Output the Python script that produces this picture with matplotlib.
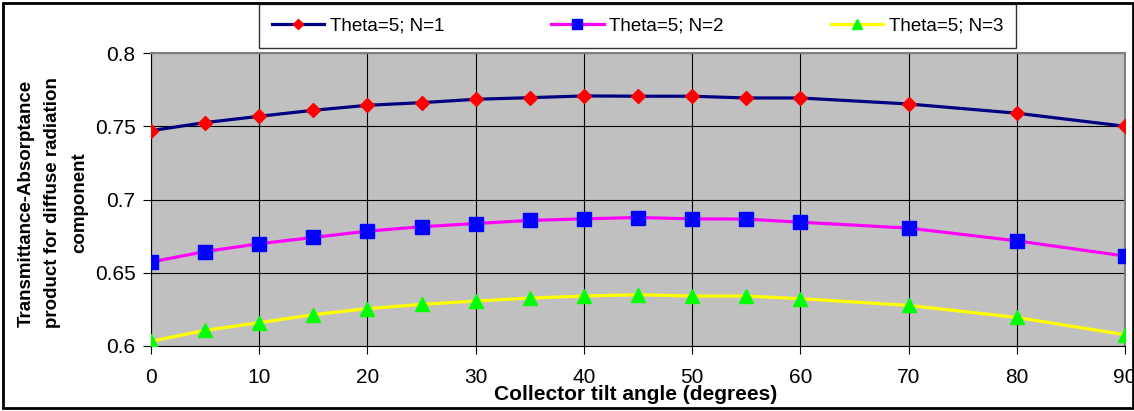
import matplotlib
matplotlib.use("Agg")
import matplotlib.pyplot as plt
from matplotlib.patches import Rectangle

plt.rcParams['font.family'] = ['Liberation Sans', 'DejaVu Sans']

# data
tilt = [0, 5, 10, 15, 20, 25, 30, 35, 40, 45, 50, 55, 60, 70, 80, 90]
n1 = [0.747, 0.7525, 0.7568, 0.7609, 0.7643, 0.7661, 0.7684, 0.7695,
      0.7707, 0.7705, 0.7705, 0.7693, 0.7693, 0.7652, 0.7589, 0.750]
n2 = [0.6573, 0.6645, 0.6698, 0.6741, 0.6784, 0.6814, 0.6836, 0.6857,
      0.6868, 0.6877, 0.6868, 0.6866, 0.6845, 0.6805, 0.6718, 0.6614]
n3 = [0.6032, 0.6107, 0.6159, 0.6214, 0.6255, 0.6284, 0.6307, 0.6327,
      0.6341, 0.6350, 0.6341, 0.6341, 0.6323, 0.6277, 0.6195, 0.6077]
labels = ["Theta=5; N=1", "Theta=5; N=2", "Theta=5; N=3"]
xticks = [0, 10, 20, 30, 40, 50, 60, 70, 80, 90]
yticks = [0.6, 0.65, 0.7, 0.75, 0.8]

W, H = 1134, 411
fig = plt.figure(figsize=(W / 100, H / 100), dpi=100)
ax = fig.add_axes([151 / W, 1 - 346 / H, (1125 - 151) / W, (346 - 53) / H])
ax.set_facecolor('#C0C0C0')

ax.plot(tilt, n1, color='#000080', lw=2.3, marker='D', ms=7.5,
        mfc='#FF0000', mec='#FF0000', label=labels[0], zorder=3)
ax.plot(tilt, n2, color='#FF00FF', lw=2.3, marker='s', ms=9.5,
        mfc='#0000FF', mec='#0000FF', label=labels[1], zorder=3)
ax.plot(tilt, n3, color='#FFFF00', lw=2.3, marker='^', ms=10,
        mfc='#00FF00', mec='#00FF00', label=labels[2], zorder=3)

ax.set_xlim(0, 90)
ax.set_ylim(0.6, 0.8)
ax.set_xticks(xticks)
ax.set_yticks(yticks)
ax.set_yticklabels(["0.6", "0.65", "0.7", "0.75", "0.8"])
ax.grid(True, color='black', lw=0.8)
ax.set_axisbelow(True)
ax.tick_params(axis='both', direction='out', length=6, width=0.8,
               labelsize=15, color='black')
ax.tick_params(axis='x', pad=10)
ax.tick_params(axis='y', pad=5)
for s in ['left', 'bottom']:
    ax.spines[s].set_color('black')
for s in ['top', 'right']:
    ax.spines[s].set_color('#808080')
    ax.spines[s].set_linewidth(1.5)

fig.text(636 / W, 1 - 394 / H, "Collector tilt angle (degrees)",
         ha='center', va='center', fontsize=15, fontweight='bold')
fig.text(53 / W, 1 - 203 / H,
         "Transmittance-Absorptance\nproduct for diffuse radiation\ncomponent",
         ha='center', va='center', rotation=90, fontsize=13.5,
         fontweight='bold', linespacing=1.75, multialignment='center')

leg = fig.legend(loc='center', bbox_to_anchor=(637.5 / W, 1 - 26 / H),
                 ncol=3, fontsize=13.5, frameon=True, fancybox=False,
                 handlelength=2.8, handletextpad=0.3, columnspacing=5.7,
                 markerscale=0.7, borderpad=0.7, borderaxespad=0)
leg.get_frame().set_edgecolor('black')
leg.get_frame().set_linewidth(1.0)

# outer chart border
fig.patches.append(Rectangle((3 / W, 3 / H), (W - 4) / W, (H - 6) / H,
                             transform=fig.transFigure, fill=False,
                             edgecolor='black', lw=2))

fig.savefig("out.png", dpi=100)
